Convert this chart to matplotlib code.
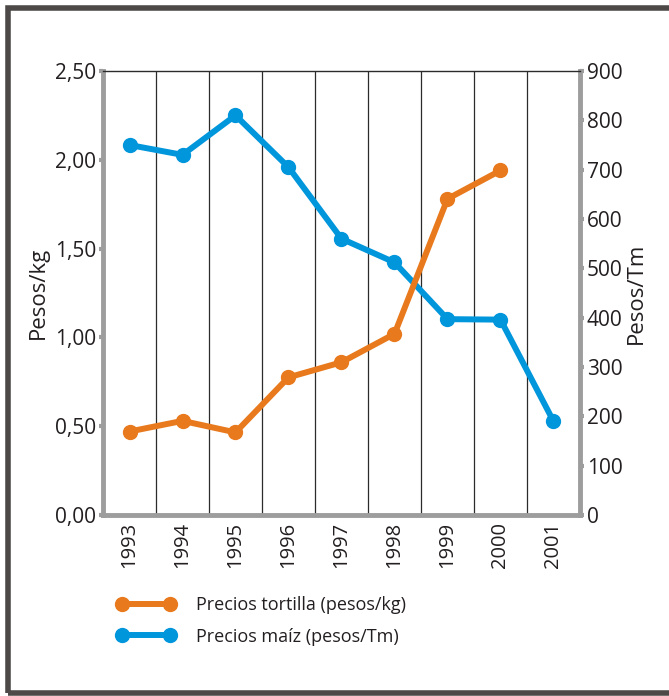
import matplotlib.pyplot as plt
from matplotlib.patches import Rectangle

plt.rcParams['font.family'] = ['Open Sans', 'DejaVu Sans']

# Data
years = ["1993", "1994", "1995", "1996", "1997", "1998", "1999", "2000", "2001"]
tortilla = [0.47, 0.53, 0.465, 0.775, 0.86, 1.02, 1.78, 1.94]      # pesos/kg
maiz = [750, 730, 810, 705, 560, 512, 397, 396, 190]               # pesos/Tm
left_ticks = [0, 0.5, 1.0, 1.5, 2.0, 2.5]
left_labels = ["0,00", "0,50", "1,00", "1,50", "2,00", "2,50"]
right_ticks = [0, 100, 200, 300, 400, 500, 600, 700, 800, 900]

orange = '#e8791c'
blue = '#0096dc'
gray = '#9d9d9d'
txt = '#231f20'

fig = plt.figure(figsize=(6.69, 6.96), dpi=100)
ax = fig.add_axes([103/669, 1 - 515/696, 477/669, 444/696])
ax2 = ax.twinx()

x = list(range(len(years)))

# vertical separators between years (on ax2, under the lines)
for b in x[:-1]:
    ax2.axvline(b + 0.5, color='#2b2b2b', lw=0.9, zorder=0)

ax2.plot(x, maiz, color=blue, lw=4.3, marker='o', ms=10, zorder=3,
         label="Precios maíz (pesos/Tm)")
l1, = ax.plot(x[:len(tortilla)], tortilla, color=orange, lw=4.3, marker='o', ms=10,
              zorder=3, label="Precios tortilla (pesos/kg)")

ax.set_zorder(ax2.get_zorder() + 1)
ax.patch.set_visible(False)

ax.set_xlim(-0.5, len(years) - 0.5)
ax.set_ylim(0, 2.5)
ax2.set_ylim(0, 900)

ax.set_xticks(x)
ax.set_xticklabels(years, rotation=90, fontsize=14.5, color=txt)
ax.set_yticks(left_ticks)
ax.set_yticklabels(left_labels, fontsize=15, color=txt)
ax2.set_yticks(right_ticks)
ax2.set_yticklabels([str(t) for t in right_ticks], fontsize=15, color=txt)

ax.tick_params(axis='x', length=0, pad=5)
ax.tick_params(axis='y', length=3, width=3, color=gray, pad=2)
ax2.tick_params(axis='y', length=3, width=3, color=gray, pad=2)

for s in ['left', 'bottom']:
    ax.spines[s].set_color(gray)
    ax.spines[s].set_linewidth(3.5)
ax.spines['right'].set_visible(False)
ax.spines['top'].set_color('#2b2b2b')
ax.spines['top'].set_linewidth(1.0)
for s in ['left', 'bottom', 'top']:
    ax2.spines[s].set_visible(False)
ax2.spines['right'].set_color(gray)
ax2.spines['right'].set_linewidth(3.5)

ax.set_ylabel("Pesos/kg", fontsize=16, color=txt, labelpad=4)
ax2.set_ylabel("Pesos/Tm", fontsize=16, color=txt, labelpad=2)

h2 = ax2.get_lines()[-1]
fig.legend([l1, h2], [l1.get_label(), h2.get_label()], loc='upper left',
           bbox_to_anchor=(100/669, 1 - 580/696), frameon=False, fontsize=13,
           numpoints=2, handlelength=3.3, handletextpad=1.1, labelspacing=0.75,
           labelcolor=txt)

# outer frame
fig.patches.append(Rectangle((8/669, 3.5/696), 1.0, 685/696, transform=fig.transFigure,
                             fill=False, ec='#4d4949', lw=4, zorder=0))

fig.savefig("out.png", dpi=100)
